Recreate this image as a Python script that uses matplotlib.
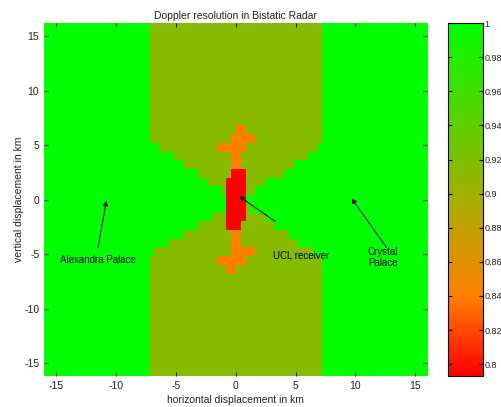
import numpy as np
import matplotlib
matplotlib.use("Agg")
import matplotlib.pyplot as plt
from matplotlib.colors import LinearSegmentedColormap

plt.rcParams["font.family"] = ["Liberation Sans", "DejaVu Sans"]
plt.rcParams["axes.unicode_minus"] = False

# resolution levels
GREEN = 1.0
OLIVE = 0.915
ORANGE = 0.84
RED = 0.793

# reduced-resolution band around the baseline (km)
band_half_width = 7.2

# green wedge rows: green where x < left or x > right
wedge_rows = [-4.8, -4.0, -3.2, -2.4, -1.6, -0.8, 0.0, 0.8, 1.6, 2.4, 3.2, 4.0, 4.8]
wedge_left = [-6.9, -5.6, -4.4, -3.2, -1.9, -0.8, -0.8, -1.2, -2.2, -3.2, -4.2, -5.2, -6.3]
wedge_right = [6.4, 5.4, 4.3, 3.3, 2.3, 1.3, 0.8, 1.5, 2.6, 4.0, 5.0, 5.9, 6.7]

# orange zig-zags above and below the receiver: (row, x from, x to)
orange_rows = [6.4, 5.6, 4.8, 4.0, 3.2, -3.2, -4.0, -4.8, -5.6, -6.4]
orange_from = [0.0, -0.4, -1.6, -0.4, -0.4, -0.4, -0.4, -0.4, -1.6, -0.8]
orange_to = [0.8, 1.6, 0.8, 0.4, 0.4, 0.4, 0.4, 1.6, 0.8, 0.0]

# red strip through the receiver
red_rows = [-2.4, -1.6, -0.8, 0.0, 0.8, 1.6, 2.4]
red_from = [-0.8, -0.8, -0.8, -0.8, -0.8, -0.8, -0.4]
red_to = [0.4, 0.8, 0.8, 0.8, 0.8, 0.8, 0.8]

cbar_ticks = [0.8, 0.82, 0.84, 0.86, 0.88, 0.9, 0.92, 0.94, 0.96, 0.98, 1.0]
cbar_labels = ["0.8", "0.82", "0.84", "0.86", "0.88", "0.9", "0.92", "0.94", "0.96", "0.98", "1"]
axis_ticks = [-15, -10, -5, 0, 5, 10, 15]

# grid: 0.4 km columns, 0.8 km rows
xc = np.arange(-15.8, 16.0, 0.4)
yc = np.arange(-16.0, 16.01, 0.8)
Z = np.full((len(yc), len(xc)), GREEN)
band = np.abs(xc) < band_half_width
Z[:, band] = OLIVE


def row_of(y):
    return int(np.argmin(np.abs(yc - y)))


for y, lo, hi in zip(wedge_rows, wedge_left, wedge_right):
    Z[row_of(y), band & ((xc < lo) | (xc > hi))] = GREEN
for y, lo, hi in zip(orange_rows, orange_from, orange_to):
    Z[row_of(y), (xc > lo) & (xc < hi)] = ORANGE
for y, lo, hi in zip(red_rows, red_from, red_to):
    Z[row_of(y), (xc > lo) & (xc < hi)] = RED

vmin, vmax = Z.min(), Z.max()


def pos(v):
    return (v - vmin) / (vmax - vmin)


cmap = LinearSegmentedColormap.from_list(
    "doppler",
    [(0.0, "#ff0000"), (pos(0.84), "#ff8000"), (1.0, "#00ff00")],
)

fig = plt.figure(figsize=(5.02, 4.07), dpi=100)
ax = fig.add_axes([0.088, 0.076, 0.763, 0.867])
cax = fig.add_axes([0.893, 0.076, 0.069, 0.867])

im = ax.imshow(Z, cmap=cmap, vmin=vmin, vmax=vmax, origin="lower",
               extent=[-16, 16, -16.4, 16.4], aspect="auto", interpolation="nearest")
ax.set_xlim(-16, 16)
ax.set_ylim(-16.2, 16.2)
ax.set_xticks(axis_ticks)
ax.set_yticks(axis_ticks)
ax.tick_params(direction="in", length=3, labelsize=7.5, labelcolor="#222222",
               top=True, right=True, colors="#222222")
for s in ax.spines.values():
    s.set_visible(False)

ax.set_title("Doppler resolution in Bistatic Radar", fontsize=7.5, color="#222222", pad=3)
ax.set_xlabel("horizontal displacement in km", fontsize=7.5, color="#222222", labelpad=3)
ax.set_ylabel("vertical displacement in km", fontsize=7.5, color="#222222", labelpad=0)

arrow = dict(arrowstyle="-|>", color="black", lw=0.7, mutation_scale=7, shrinkA=0, shrinkB=0)
ax.annotate("", xy=(-10.8, -0.1), xytext=(-11.5, -4.4), arrowprops=arrow)
ax.annotate("", xy=(0.3, 0.3), xytext=(3.3, -2.0), arrowprops=arrow)
ax.annotate("", xy=(9.7, 0.1), xytext=(12.6, -4.4), arrowprops=arrow)
ax.text(-11.5, -5.5, "Alexandra Palace", fontsize=7, ha="center", va="center")
ax.text(5.5, -5.2, "UCL receiver", fontsize=7, ha="center", va="center")
ax.text(12.3, -5.3, "Crystal\nPalace", fontsize=7, ha="center", va="center", linespacing=1.1)

cb = fig.colorbar(im, cax=cax)
cb.set_ticks(cbar_ticks)
cb.set_ticklabels(cbar_labels)
cb.ax.tick_params(direction="in", length=3, labelsize=6.5, labelcolor="#222222",
                  left=True, right=True, pad=1)
cb.outline.set_linewidth(0.8)

fig.savefig("out.png", dpi=100)
